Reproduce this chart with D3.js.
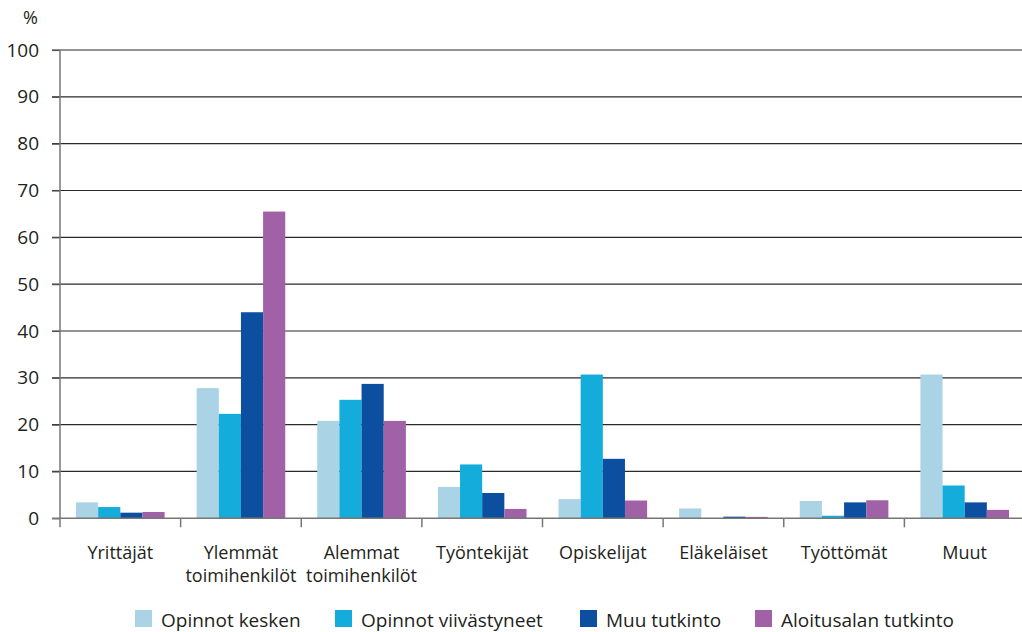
<!DOCTYPE html>
<html>
<head>
<meta charset="utf-8">
<script src="https://cdn.jsdelivr.net/npm/d3@7"></script>
<style>
html,body{margin:0;padding:0;background:#fff;}
svg{display:block;}
text{font-family:"Open Sans",sans-serif;fill:#231f20;}
</style>
</head>
<body>
<svg id="chart" width="1022" height="632"></svg>
<script>
const categories = [["Yrittäjät"],["Ylemmät","toimihenkilöt"],["Alemmat","toimihenkilöt"],["Työntekijät"],["Opiskelijat"],["Eläkeläiset"],["Työttömät"],["Muut"]];
const seriesNames = ["Opinnot kesken","Opinnot viivästyneet","Muu tutkinto","Aloitusalan tutkinto"];
const opinnotKesken      = [3.4, 27.8, 20.8, 6.7, 4.1, 2.1, 3.7, 30.7];
const opinnotViivastyneet = [2.4, 22.3, 25.3, 11.5, 30.7, 0, 0.55, 7.0];
const muuTutkinto        = [1.2, 44.0, 28.7, 5.4, 12.7, 0.35, 3.4, 3.4];
const aloitusalanTutkinto = [1.35, 65.5, 20.8, 2.0, 3.8, 0.3, 3.85, 1.8];
const yTicks = [0,10,20,30,40,50,60,70,80,90,100];
const colors = ["#abd3e6","#13acdb","#0c4fa0","#a061a6"];

(function(){
const series = [opinnotKesken, opinnotViivastyneet, muuTutkinto, aloitusalanTutkinto];
const svg = d3.select("#chart");
const pL = 60, pR = 1025, pT = 50, pB = 518.3;
const catKeys = categories.map(c => c.join(" "));
const fs = "19px";

const x0 = d3.scaleBand().domain(catKeys).range([pL, pR]).padding(0);
const bw = x0.bandwidth();
const x1 = d3.scaleBand().domain(d3.range(series.length)).range([16, bw - 16]).padding(0);
const y = d3.scaleLinear().domain([0,100]).range([pB, pT]);

// gridlines
svg.append("g").selectAll("line").data(yTicks.filter(t => t > 0)).join("line")
  .attr("x1", pL - 8).attr("x2", 1022)
  .attr("y1", d => y(d)).attr("y2", d => y(d))
  .attr("stroke", "#2a2a2a").attr("stroke-width", 1.2);

// bars
const g = svg.append("g");
catKeys.forEach((k, i) => {
  series.forEach((s, j) => {
    const v = s[i];
    if (v <= 0) return;
    g.append("rect")
      .attr("x", x0(k) + x1(j))
      .attr("y", y(v))
      .attr("width", x1.bandwidth())
      .attr("height", y(0) - y(v))
      .attr("fill", colors[j]);
  });
});

// y axis
const yAxis = d3.axisLeft(y).tickValues(yTicks).tickSize(8).tickPadding(13);
const ya = svg.append("g").attr("transform", `translate(${pL},0)`).call(yAxis);
ya.select(".domain").remove();
ya.selectAll(".tick line").attr("stroke", "#555").attr("stroke-width", 1.2);
ya.selectAll(".tick text").style("font-size", fs).style("font-family", '"Open Sans",sans-serif').attr("fill", "#231f20");
svg.append("line").attr("x1", pL).attr("x2", pL).attr("y1", pT).attr("y2", pB + 9)
  .attr("stroke", "#777").attr("stroke-width", 1.5);

// x axis baseline
svg.append("line").attr("x1", pL - 8).attr("x2", 1022).attr("y1", pB).attr("y2", pB)
  .attr("stroke", "#777").attr("stroke-width", 1.5);
// x ticks at group boundaries
const bounds = catKeys.map(k => x0(k)).concat([pR]);
svg.append("g").selectAll("line").data(bounds.slice(1)).join("line")
  .attr("x1", d => d).attr("x2", d => d).attr("y1", pB).attr("y2", pB + 9)
  .attr("stroke", "#777").attr("stroke-width", 1.5);

// category labels
catKeys.forEach((k, i) => {
  const t = svg.append("text").attr("text-anchor", "middle")
    .attr("x", x0(k) + bw / 2).attr("y", 559).style("font-size", "18px");
  categories[i].forEach((line, li) => {
    t.append("tspan").attr("x", x0(k) + bw / 2).attr("dy", li === 0 ? 0 : 23).text(line);
  });
});

// % label
svg.append("text").attr("x", 38).attr("y", 24).attr("text-anchor", "end").style("font-size", "18px").text("%");

// legend
const legX = [135, 335, 580, 755];
seriesNames.forEach((n, j) => {
  svg.append("rect").attr("x", legX[j]).attr("y", 610).attr("width", 17).attr("height", 17).attr("fill", colors[j]);
  svg.append("text").attr("x", legX[j] + 26).attr("y", 627).style("font-size", fs).text(n);
});
})();
</script>
</body>
</html>
